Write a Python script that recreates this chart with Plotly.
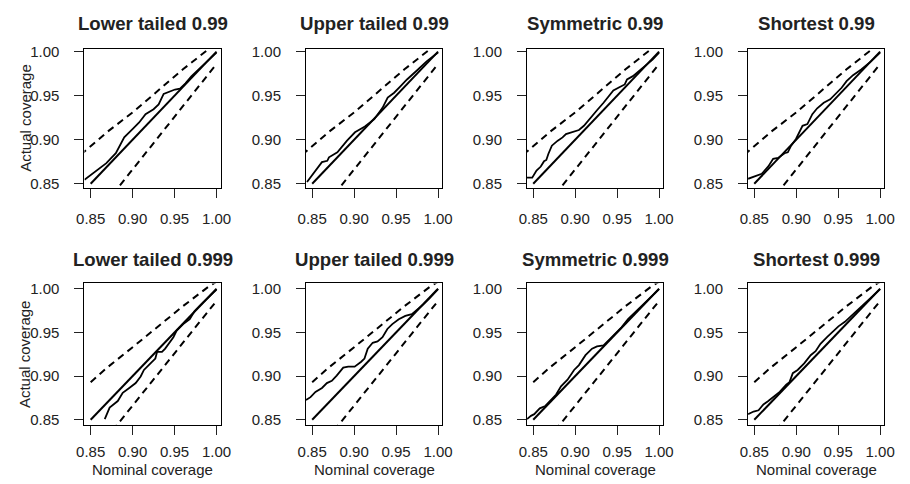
import plotly.graph_objects as go

W, H = 910, 484

TITLES = ["Lower tailed 0.99", "Upper tailed 0.99", "Symmetric 0.99", "Shortest 0.99",
          "Lower tailed 0.999", "Upper tailed 0.999", "Symmetric 0.999", "Shortest 0.999"]

TICKS = [0.85, 0.90, 0.95, 1.00]
TICK_TEXT = ["0.85", "0.90", "0.95", "1.00"]

DIAG_X = [0.85, 1.0]
DIAG_Y = [0.85, 1.0]

UPPER_X_R1 = [0.838, 0.844, 0.87, 0.90, 0.93, 0.96, 0.99, 1.0]
UPPER_Y_R1 = [0.8828, 0.8876, 0.909, 0.931, 0.956, 0.980, 1.0025, 1.009]
UPPER_X_R2 = [0.85, 0.87, 0.90, 0.93, 0.96, 0.99, 1.0]
UPPER_Y_R2 = [0.893, 0.910, 0.933, 0.957, 0.980, 1.002, 1.008]
LOWER_X = [0.876, 0.90, 0.95, 1.0]
LOWER_Y = [0.8375, 0.866, 0.926, 0.986]

ACT_X = [
    [0.8426, 0.8687, 0.880, 0.890, 0.8999, 0.9078, 0.9154, 0.925, 0.931, 0.937, 0.9505, 0.9565, 0.963, 0.97, 0.98, 0.99, 1.0],
    [0.8438, 0.8616, 0.868, 0.870, 0.880, 0.8857, 0.8915, 0.901, 0.9128, 0.924, 0.934, 0.940, 0.9477, 0.9554, 0.963, 0.9748, 0.9864, 1.0],
    [0.8426, 0.8488, 0.8539, 0.859, 0.8629, 0.8656, 0.868, 0.8722, 0.8792, 0.885, 0.889, 0.8968, 0.9045, 0.9104, 0.9182, 0.926, 0.9338, 0.9396, 0.9455, 0.9532, 0.9591, 0.9618, 0.9688, 0.9805, 0.9922, 1.0],
    [0.8426, 0.8589, 0.8667, 0.8725, 0.8784, 0.8861, 0.89, 0.8939, 0.8997, 0.9075, 0.9133, 0.9192, 0.925, 0.9328, 0.9405, 0.9464, 0.9541, 0.96, 0.9677, 0.9775, 0.9891, 1.0],
    [0.8668, 0.8726, 0.8823, 0.8882, 0.896, 0.9037, 0.9096, 0.9135, 0.9213, 0.9271, 0.9291, 0.935, 0.9388, 0.9447, 0.9486, 0.9525, 0.9603, 0.9681, 0.9739, 0.9817, 0.9895, 1.0],
    [0.8426, 0.848, 0.8539, 0.8617, 0.8675, 0.8734, 0.8792, 0.887, 0.8929, 0.9006, 0.9084, 0.9123, 0.9162, 0.9221, 0.9279, 0.9338, 0.9396, 0.9455, 0.9532, 0.961, 0.9688, 0.9747, 0.9825, 0.9903, 1.0],
    [0.8426, 0.8473, 0.8512, 0.8578, 0.8644, 0.8706, 0.8773, 0.8831, 0.8909, 0.8987, 0.9045, 0.9123, 0.9201, 0.926, 0.9338, 0.9416, 0.9474, 0.9552, 0.963, 0.9708, 0.9786, 0.9883, 1.0],
    [0.8426, 0.8492, 0.8551, 0.8609, 0.8667, 0.8725, 0.8803, 0.8881, 0.892, 0.8959, 0.9017, 0.9095, 0.9172, 0.9231, 0.9289, 0.9367, 0.9425, 0.9503, 0.958, 0.9677, 0.9793, 0.9891, 1.0],
]
ACT_Y = [
    [0.8546, 0.8734, 0.8847, 0.9027, 0.912, 0.9196, 0.929, 0.9346, 0.940, 0.952, 0.957, 0.958, 0.964, 0.972, 0.981, 0.990, 0.999],
    [0.852, 0.8745, 0.876, 0.880, 0.8858, 0.893, 0.899, 0.9084, 0.915, 0.9233, 0.9365, 0.9478, 0.9534, 0.961, 0.9684, 0.9786, 0.989, 0.999],
    [0.8568, 0.8568, 0.865, 0.8695, 0.8756, 0.877, 0.8838, 0.8932, 0.8989, 0.9026, 0.9064, 0.9083, 0.911, 0.9158, 0.925, 0.9335, 0.942, 0.9496, 0.956, 0.9598, 0.9628, 0.9684, 0.9722, 0.9816, 0.991, 0.999],
    [0.8556, 0.8613, 0.8696, 0.8782, 0.8793, 0.8846, 0.8857, 0.8932, 0.9008, 0.9158, 0.9177, 0.929, 0.9357, 0.942, 0.9459, 0.9515, 0.959, 0.9665, 0.9733, 0.9797, 0.989, 0.999],
    [0.8508, 0.8639, 0.8714, 0.8808, 0.8864, 0.892, 0.8995, 0.907, 0.9145, 0.9201, 0.9276, 0.9276, 0.9314, 0.9389, 0.9445, 0.952, 0.9595, 0.9651, 0.9745, 0.982, 0.9895, 0.9989],
    [0.8725, 0.8759, 0.8819, 0.8864, 0.892, 0.8946, 0.9006, 0.9096, 0.9108, 0.9108, 0.9164, 0.9201, 0.9314, 0.9381, 0.9396, 0.9445, 0.9539, 0.9595, 0.9651, 0.9689, 0.9708, 0.9756, 0.982, 0.9895, 0.9996],
    [0.8508, 0.8545, 0.8564, 0.8631, 0.8658, 0.8721, 0.8789, 0.8883, 0.8958, 0.907, 0.9126, 0.9239, 0.9314, 0.934, 0.9351, 0.9426, 0.9483, 0.9558, 0.9651, 0.9726, 0.9801, 0.9895, 0.9996],
    [0.8564, 0.8594, 0.8609, 0.8676, 0.8714, 0.8759, 0.8819, 0.8901, 0.8931, 0.9033, 0.907, 0.9145, 0.9239, 0.9284, 0.937, 0.9445, 0.9501, 0.9569, 0.9621, 0.9708, 0.9809, 0.9906, 0.9996],
]

FONT = "Liberation Sans, Arial, Helvetica, sans-serif"
TXT = "#222222"

COL_LEFT = [78, 304, 529.5, 755]
COL_W = 139
ROW_TOP = [43.5, 283.3]
ROW_H = [142, 145]
YRANGE = [[0.8455, 1.0035], [0.8435, 1.006]]
XRANGE = [0.8426, 1.005]
X_STANDOFF = [8, 4]

fig = go.Figure()
annotations = []

for i in range(8):
    r, c = divmod(i, 4)
    sfx = "" if i == 0 else str(i + 1)
    xa, ya = "x" + sfx, "y" + sfx
    x0 = COL_LEFT[c] / W
    x1 = (COL_LEFT[c] + COL_W) / W
    y1 = 1 - ROW_TOP[r] / H
    y0 = 1 - (ROW_TOP[r] + ROW_H[r]) / H

    ux, uy = (UPPER_X_R1, UPPER_Y_R1) if r == 0 else (UPPER_X_R2, UPPER_Y_R2)
    fig.add_trace(go.Scatter(x=ux, y=uy, mode="lines", xaxis=xa, yaxis=ya,
                             line=dict(color="black", width=2, dash="7px,5px"), showlegend=False))
    fig.add_trace(go.Scatter(x=LOWER_X, y=LOWER_Y, mode="lines", xaxis=xa, yaxis=ya,
                             line=dict(color="black", width=2, dash="7px,5px"), showlegend=False))
    fig.add_trace(go.Scatter(x=DIAG_X, y=DIAG_Y, mode="lines", xaxis=xa, yaxis=ya,
                             line=dict(color="black", width=2), showlegend=False))
    fig.add_trace(go.Scatter(x=ACT_X[i], y=ACT_Y[i], mode="lines", xaxis=xa, yaxis=ya,
                             line=dict(color="black", width=1.8), showlegend=False))

    axcommon = dict(showgrid=False, zeroline=False, showline=True, mirror=True,
                    linecolor="black", linewidth=1, ticks="outside", ticklen=9,
                    tickwidth=1, tickcolor=TXT, tickvals=TICKS, ticktext=TICK_TEXT,
                    tickfont=dict(family=FONT, size=15, color=TXT))
    fig.layout["xaxis" + sfx] = dict(domain=[x0, x1], range=XRANGE, anchor=ya,
                                     ticklabelstandoff=X_STANDOFF[r], **axcommon)
    fig.layout["yaxis" + sfx] = dict(domain=[y0, y1], range=YRANGE[r], anchor=xa,
                                     ticklabelstandoff=12, **axcommon)

    annotations.append(dict(text="<b>" + TITLES[i] + "</b>", x=(x0 + x1) / 2,
                            y=1 - (18 if r == 0 else 259) / H, xref="paper", yref="paper",
                            xanchor="center", yanchor="middle", showarrow=False,
                            font=dict(family=FONT, size=18.6, color=TXT)))
    if c == 0:
        annotations.append(dict(text="Actual coverage", x=17 / W, y=(y0 + y1) / 2,
                                xref="paper", yref="paper", xanchor="center", yanchor="middle",
                                textangle=-90, showarrow=False,
                                font=dict(family=FONT, size=15, color=TXT)))
    if r == 1:
        annotations.append(dict(text="Nominal coverage", x=(x0 + x1) / 2, y=1 - 473 / H,
                                xref="paper", yref="paper", xanchor="center", yanchor="middle",
                                showarrow=False, font=dict(family=FONT, size=15, color=TXT)))

fig.update_layout(width=W, height=H, margin=dict(l=0, r=0, t=0, b=0),
                  paper_bgcolor="white", plot_bgcolor="white",
                  annotations=annotations, showlegend=False)

fig.write_html("out.html")
